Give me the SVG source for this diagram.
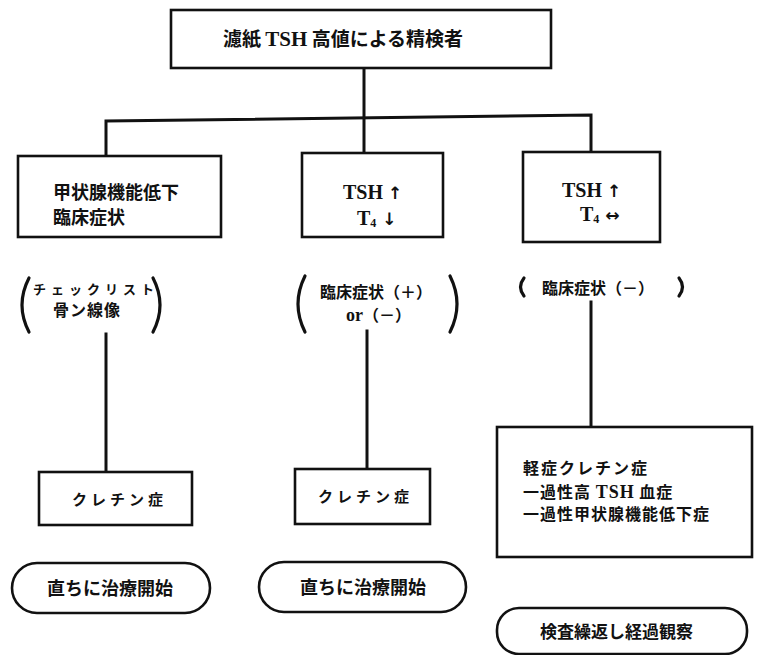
<svg xmlns="http://www.w3.org/2000/svg" width="757" height="655" viewBox="0 0 757 655">
<style>
  .box{fill:#fff;stroke:#111;stroke-width:2.6}
  .pill{fill:#fff;stroke:#111;stroke-width:2.6}
  .con{fill:none;stroke:#111;stroke-width:3;stroke-linecap:square}
  .par{fill:none;stroke:#111;stroke-width:3.2;stroke-linecap:round}
  .jp{font-family:"Noto Sans CJK JP","Noto Sans CJK SC",sans-serif;font-weight:bold;fill:#111}
  .lat{font-family:"Liberation Serif","DejaVu Serif",serif;font-weight:bold;fill:#111}
  .arr{font-family:"DejaVu Sans",sans-serif;font-weight:bold;fill:#111}
</style>
<rect width="757" height="655" fill="#fff"/>
<g id="connectors">
  <path class="con" d="M364,68 V153"/>
  <path class="con" d="M106,156 V121 L591,115 V152"/>
  <path class="con" d="M106,334 V471"/>
  <path class="con" d="M367,331 V469"/>
  <path class="con" d="M591,302 V427"/>
</g>
<g id="root">
  <rect class="box" x="171" y="10" width="380" height="58"/>
  <text class="jp" x="223" y="46" font-size="19">濾紙 <tspan class="lat" font-size="21">TSH</tspan> 高値による精検者</text>
</g>
<g id="hypo">
  <rect class="box" x="18" y="156" width="203" height="81"/>
  <text class="jp" x="53" y="199" font-size="18">甲状腺機能低下</text>
  <text class="jp" x="53" y="224" font-size="18">臨床症状</text>
</g>
<g id="tsh-t4-low">
  <rect class="box" x="302" y="153" width="141" height="84"/>
  <text class="lat" x="343" y="199" font-size="20">TSH <tspan class="arr" font-size="17">↑</tspan></text>
  <text class="lat" x="357" y="225" font-size="20">T<tspan font-size="12" dy="2">4</tspan><tspan class="arr" font-size="17" dy="-2"> ↓</tspan></text>
</g>
<g id="tsh-t4-normal">
  <rect class="box" x="523" y="152" width="137" height="90"/>
  <text class="lat" x="562" y="197" font-size="20">TSH <tspan class="arr" font-size="17">↑</tspan></text>
  <text class="lat" x="580" y="221" font-size="20">T<tspan font-size="12" dy="2">4</tspan><tspan class="arr" font-size="17" dy="-2"> ↔</tspan></text>
</g>
<g id="checklist">
  <path class="par" d="M29,278 Q15,305 29,332"/>
  <path class="par" d="M153,278 Q167,305 153,332"/>
  <text class="jp" x="33" y="294" font-size="13" letter-spacing="5">チェックリスト</text>
  <text class="jp" x="53" y="316" font-size="16" letter-spacing="1">骨ン線像</text>
</g>
<g id="clinical-pm">
  <path class="par" d="M305,276 Q291,304 305,332"/>
  <path class="par" d="M450,276 Q464,304 450,332"/>
  <text class="jp" x="320" y="298" font-size="16">臨床症状（＋）</text>
  <text class="jp" x="346" y="321" font-size="16"><tspan class="lat" font-size="18">or</tspan>（－）</text>
</g>
<g id="clinical-m">
  <path class="par" d="M524,278 Q517,287 524,296"/>
  <path class="par" d="M679,278 Q686,287 679,296"/>
  <text class="jp" x="542" y="294" font-size="16">臨床症状（－）</text>
</g>
<g id="cretin1">
  <rect class="box" x="39" y="472" width="153" height="53"/>
  <text class="jp" x="72" y="505" font-size="15" letter-spacing="4">クレチン症</text>
</g>
<g id="cretin2">
  <rect class="box" x="295" y="469" width="135" height="55"/>
  <text class="jp" x="318" y="502" font-size="15" letter-spacing="4">クレチン症</text>
</g>
<g id="mild">
  <rect class="box" x="497" y="427" width="255" height="130"/>
  <text class="jp" x="523" y="474" font-size="16" letter-spacing="2">軽症クレチン症</text>
  <text class="jp" x="523" y="498" font-size="16" letter-spacing="1">一過性高 <tspan class="lat" font-size="18">TSH</tspan> 血症</text>
  <text class="jp" x="523" y="520" font-size="16" letter-spacing="1">一過性甲状腺機能低下症</text>
</g>
<g id="treat1">
  <rect class="pill" x="12" y="563" width="198" height="50" rx="25"/>
  <text class="jp" x="47" y="595" font-size="18">直ちに治療開始</text>
</g>
<g id="treat2">
  <rect class="pill" x="259" y="562" width="207" height="50" rx="25"/>
  <text class="jp" x="300" y="594" font-size="18">直ちに治療開始</text>
</g>
<g id="observe">
  <rect class="pill" x="497" y="608" width="250" height="46" rx="22"/>
  <text class="jp" x="540" y="638" font-size="17">検査繰返し経過観察</text>
</g>
</svg>
